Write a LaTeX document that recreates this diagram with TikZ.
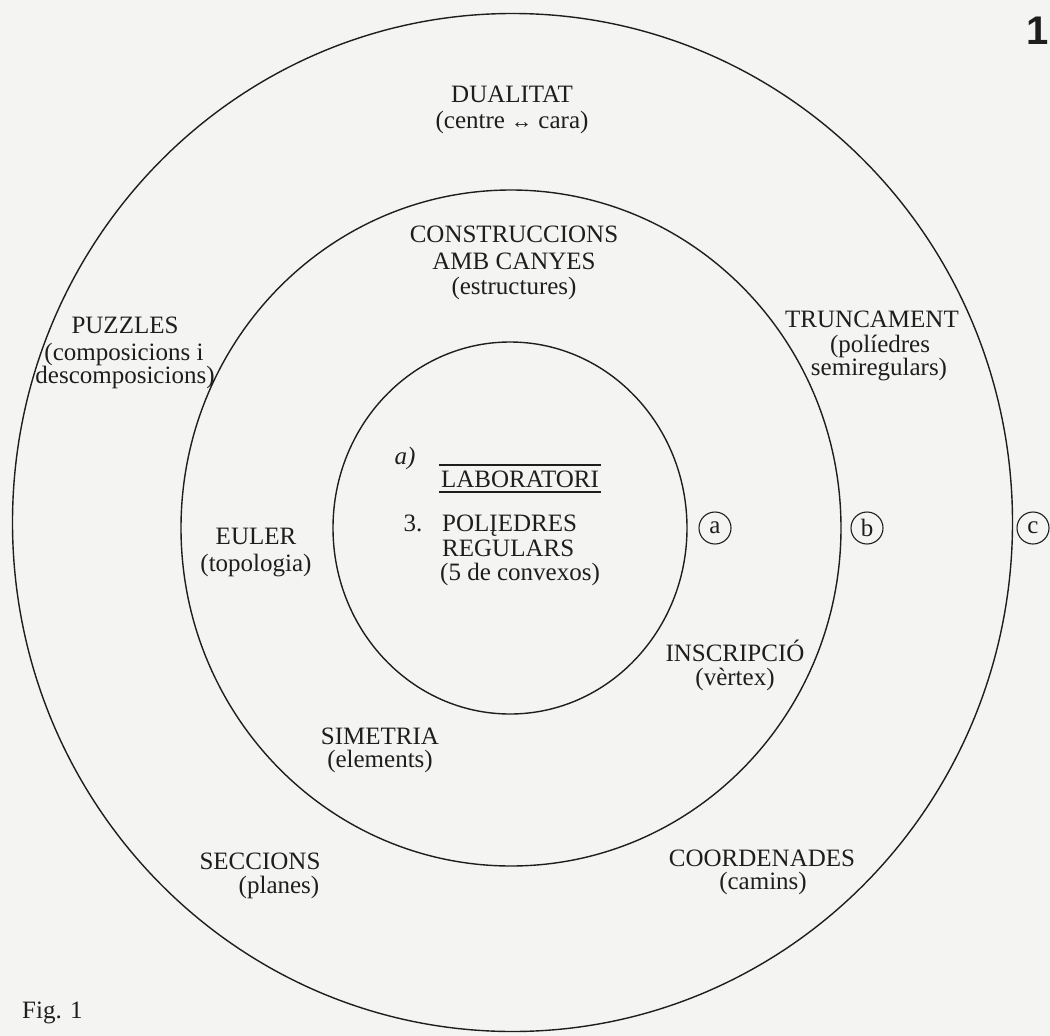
\documentclass[tikz,border=0pt]{standalone}
\usepackage{fontspec}
\setmainfont{Liberation Serif}
\newfontfamily\bigsans{Liberation Sans}
\usetikzlibrary{calc}
\definecolor{ink}{RGB}{30,30,30}
\definecolor{paper}{RGB}{244,244,242}
\begin{document}
\begin{tikzpicture}[x=1pt,y=-1pt,
  lbl/.style={inner sep=0pt, anchor=base, font=\fontsize{25}{30}\selectfont, text=ink},
  lblw/.style={lbl, anchor=base west},
  ring/.style={draw=ink, line width=1.4pt},
  rulebar/.style={draw=ink, line width=1.3pt},
  letterring/.style={circle, draw=ink, line width=1.1pt, minimum size=32pt, inner sep=0pt, font=\fontsize{25}{28}\selectfont, text=ink}]
\useasboundingbox (0,0) rectangle (1050,1036);
\fill[paper] (0,0) rectangle (1050,1036);
% rings
\draw[ring] (512.5,522.5) ellipse [x radius=500, y radius=509];
\draw[ring] (511,528) ellipse [x radius=330, y radius=338];
\draw[ring] (510,528) ellipse [x radius=177, y radius=186];
% outer ring labels
\node[lbl] (dual) at (512,102) {DUALITAT};
\node[lbl] (dualb) at (512,128) {(centre {\fontsize{21}{21}\selectfont ↔} cara)};
\node[lbl] (puz) at (125,333) {PUZZLES};
\node[lbl] (puzb) at (124,360) {(composicions i};
\node[lbl] (puzc) at (125,383) {descomposicions)};
\node[lbl] (trun) at (872,327) {TRUNCAMENT};
\node[lbl] (trunb) at (880,352) {(políedres};
\node[lbl] (trunc) at (879,375) {semiregulars)};
\node[lbl] (secc) at (260,869) {SECCIONS};
\node[lbl] (seccb) at (279,893) {(planes)};
\node[lbl] (coor) at (762,866) {COORDENADES};
\node[lbl] (coorb) at (763,889) {(camins)};
% middle ring labels
\node[lbl] (cons) at (514,242) {CONSTRUCCIONS};
\node[lbl] (consb) at (514,269) {AMB CANYES};
\node[lbl] (consc) at (514,294) {(estructures)};
\node[lbl] (eul) at (256,544) {EULER};
\node[lbl] (eulb) at (256,571) {(topologia)};
\node[lbl] (insc) at (735,661) {INSCRIPCIÓ};
\node[lbl] (inscb) at (735,685) {(vèrtex)};
\node[lbl] (sim) at (380,744) {SIMETRIA};
\node[lbl] (simb) at (380,767) {(elements)};
% inner ring labels
\node[lbl] (ita) at (405,464) {\itshape a)};
\node[lbl] (lab) at (520,487) {LABORATORI};
\draw[rulebar] ($(lab.base west)+(-2,-22)$) -- ($(lab.base east)+(2,-22)$);
\draw[rulebar] ($(lab.base west)+(-2,5)$) -- ($(lab.base east)+(2,5)$);
\node[lbl] (num) at (413,531) {3.};
\node[lblw] (pol) at (442,531) {POLĮEDRES};
\node[lblw] (reg) at (442,556) {REGULARS};
\node[lblw] (conv) at (440,580) {(5 de convexos)};
% ring letters
\node[letterring] (ra) at (715,528) {a};
\node[letterring] (rb) at (867,528) {b};
\node[letterring] (rc) at (1033,528) {c};
% captions
\node[lblw] (fig) at (22,1018) {Fig. 1};
\node[inner sep=0pt, anchor=base west, text=ink, font=\bigsans\bfseries\fontsize{40}{40}\selectfont] (pg) at (1026,45) {1};
\end{tikzpicture}
\end{document}
